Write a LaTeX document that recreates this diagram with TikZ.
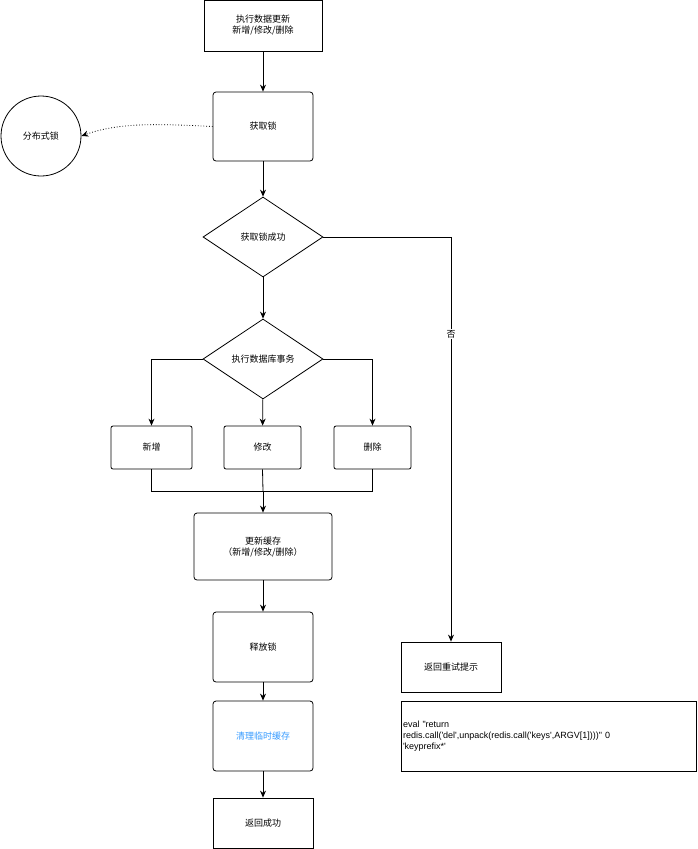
\documentclass[tikz,border=0pt]{standalone}
\usepackage{fontspec}
\setmainfont{Noto Sans CJK SC}
\newfontfamily\latinfont{Liberation Sans}
\usetikzlibrary{shapes.geometric, arrows.meta}
\definecolor{textblue}{RGB}{51,153,255}

\begin{document}
\begin{tikzpicture}[x=1pt, y=-1pt, font=\fontsize{9}{11}\selectfont,
    box/.style={draw, thick, rectangle, align=center, inner sep=0pt},
    rbox/.style={box, rounded corners=3pt},
    decision/.style={draw, thick, diamond, aspect=1.5, inner sep=0pt, minimum width=120pt, minimum height=80pt},
    flow/.style={-{Stealth[length=7pt, width=6pt]}, thick}
]
\useasboundingbox (0,0) rectangle (698,849);

% 主流程
\node[box, minimum width=118pt, minimum height=51pt] (update) at (263,25.5) {执行数据更新\\新增/修改/删除};
\node[rbox, minimum width=100pt, minimum height=69pt] (getlock) at (263,126.5) {获取锁};
\node[draw, thick, circle, minimum size=80pt, inner sep=0pt] (dlock) at (41,136) {分布式锁};
\node[decision] (locked) at (263,237) {获取锁成功};
\node[decision] (trans) at (263,359) {执行数据库事务};

% 三种操作
\node[rbox, rounded corners=2pt, minimum width=81pt, minimum height=43pt] (add) at (151.5,447.5) {新增};
\node[rbox, rounded corners=2pt, minimum width=77pt, minimum height=43pt] (modify) at (262.5,447.5) {修改};
\node[rbox, rounded corners=2pt, minimum width=77pt, minimum height=43pt] (delete) at (372.5,447.5) {删除};
\coordinate (merge) at (263,491);

\node[rbox, minimum width=138pt, minimum height=67pt] (cache) at (263,546.5) {更新缓存\\（新增/修改/删除）};
\node[rbox, minimum width=100pt, minimum height=70pt] (release) at (263,647) {释放锁};
\node[rbox, minimum width=100pt, minimum height=70pt, text=textblue] (clean) at (263,736) {清理临时缓存};
\node[box, minimum width=100pt, minimum height=50pt] (success) at (263,823) {返回成功};

% 失败分支
\node[box, minimum width=100pt, minimum height=50pt] (retry) at (451,667) {返回重试提示};
\node[box, minimum width=295pt, minimum height=70pt, align=left, text width=291pt, inner sep=2pt,
    font=\latinfont\fontsize{9}{11}\selectfont] (evalcmd) at (548.5,736)
    {eval "return\\redis.call('del',unpack(redis.call('keys',ARGV[1])))" 0\\'keyprefix*'};

% 连接线
\draw[flow] (update) -- (getlock);
\draw[flow, dotted] (getlock.west) .. controls (160,124) and (120,122) .. (dlock.east);
\draw[flow] (getlock) -- (locked);
\draw[flow] (locked) -- (trans);
\draw[flow] (locked.east) -| node[pos=0.62, fill=white, inner sep=1pt] (no) {否} (retry.north);
\draw[flow] (trans.west) -| (add.north);
\draw[flow] (trans) -- (modify);
\draw[flow] (trans.east) -| (delete.north);
\draw[thick] (add.south) |- (merge);
\draw[thick] (delete.south) |- (merge);
\draw[thick] (modify.south) -- (merge);
\draw[flow] (merge) -- (cache);
\draw[flow] (cache) -- (release);
\draw[flow] (release) -- (clean);
\draw[flow] (clean) -- (success);
\end{tikzpicture}
\end{document}
